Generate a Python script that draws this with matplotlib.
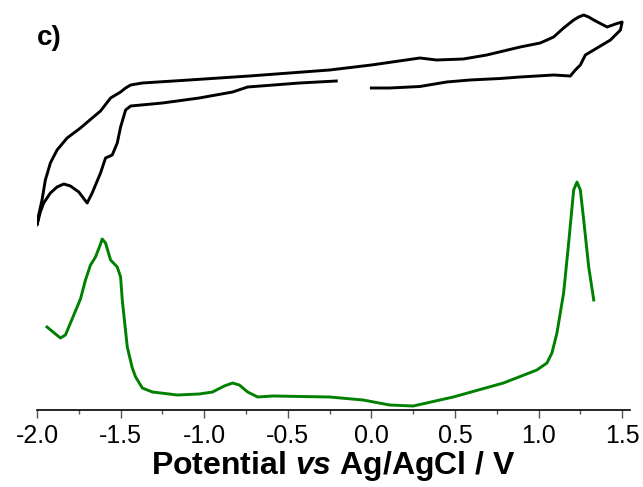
import matplotlib
matplotlib.use('Agg')
import matplotlib.pyplot as plt
from matplotlib.ticker import MultipleLocator

# CV trace (black): potential in V, current in arbitrary units
cv_potential = [0.00, 0.11, 0.29, 0.45, 0.59, 0.77, 0.89, 1.09, 1.19, 1.22, 1.25, 1.28, 1.35, 1.43, 1.49, 1.50,
                1.46, 1.41, 1.33, 1.30, 1.27, 1.24, 1.21, 1.15, 1.09, 1.01, 0.89, 0.69, 0.55, 0.39, 0.29, 0.00,
                -0.25, -0.73, -1.09, -1.37, -1.44, -1.47, -1.50, -1.56, -1.62, -1.67, -1.74, -1.82, -1.88,
                -1.92, -1.95, -1.97, -1.99, -2.00,
                -1.98, -1.96, -1.92, -1.88, -1.84, -1.80, -1.75, -1.70, -1.67, -1.62, -1.59, -1.55, -1.52,
                -1.50, -1.47, -1.44, -1.25, -1.03, -0.83, -0.74, -0.43, -0.21]
cv_current = [322, 322, 323.5, 328, 330, 331.5, 333, 335, 334, 340, 345, 355, 362, 370, 380, 388,
              386, 383, 390, 393, 395, 393, 390, 382, 373, 367, 363, 355, 351, 350, 352, 345,
              340, 334, 330, 327, 325, 322, 318, 312, 299, 292, 282, 272, 260,
              247, 230, 210, 195, 185,
              198, 207, 217, 223, 226, 224, 218, 207, 217, 237, 252, 255, 267,
              283, 300, 304, 307, 312, 318, 323, 327, 329]

# DPV trace (green)
dpv_potential = [-1.94, -1.86, -1.83, -1.78, -1.74, -1.71, -1.68, -1.65, -1.62, -1.61, -1.59, -1.56, -1.52,
                 -1.50, -1.49, -1.46, -1.43, -1.41, -1.37, -1.31, -1.16, -1.03, -0.95, -0.88, -0.83,
                 -0.79, -0.74, -0.68, -0.59, -0.25, -0.05, 0.11, 0.25, 0.49, 0.79, 0.99, 1.05, 1.08,
                 1.11, 1.15, 1.18, 1.21, 1.23, 1.25, 1.27, 1.30, 1.33]
dpv_current = [83, 72, 75, 95, 111, 130, 145, 153, 166, 171, 167, 150, 143,
               133, 110, 63, 42, 33, 22, 18, 15, 16, 18, 24, 27,
               25, 18, 13, 14, 13, 10, 5, 4, 13, 27, 40, 47, 57,
               77, 117, 167, 220, 228, 220, 190, 143, 110]

xticks = [-2.0, -1.5, -1.0, -0.5, 0.0, 0.5, 1.0, 1.5]

plt.rcParams['font.family'] = ['Liberation Sans', 'DejaVu Sans']
plt.rcParams['mathtext.fontset'] = 'custom'
plt.rcParams['mathtext.it'] = 'Liberation Sans:bold:italic'

fig = plt.figure(figsize=(6.43, 4.87), dpi=100)
ax = fig.add_axes([37 / 643, 77 / 487, 593 / 643, 410 / 487])

ax.plot(cv_potential, cv_current, color='black', lw=2.1, solid_joinstyle='round')
ax.plot(dpv_potential, dpv_current, color='#008000', lw=2.1, solid_joinstyle='round')

ax.set_xlim(-2.0, 1.547)
ax.set_ylim(0, 410)
ax.set_xticks(xticks)
ax.set_xticklabels([f'{t:.1f}' for t in xticks])
ax.xaxis.set_minor_locator(MultipleLocator(0.25))
ax.tick_params(axis='x', which='major', direction='out', length=6, width=1, color='#555555',
               labelsize=18, pad=4)
ax.tick_params(axis='x', which='minor', direction='out', length=3, width=1, color='#555555')
ax.set_yticks([])
for s in ['left', 'right', 'top']:
    ax.spines[s].set_visible(False)
ax.spines['bottom'].set_linewidth(1.2)

ax.set_xlabel(r'Potential $\mathit{vs}$ Ag/AgCl / V', fontsize=23, fontweight='bold', labelpad=1)

fig.text(37 / 643, 1 - 25 / 487, 'c)', fontsize=20, fontweight='bold', va='top', ha='left')

fig.savefig('out.png', dpi=100)
